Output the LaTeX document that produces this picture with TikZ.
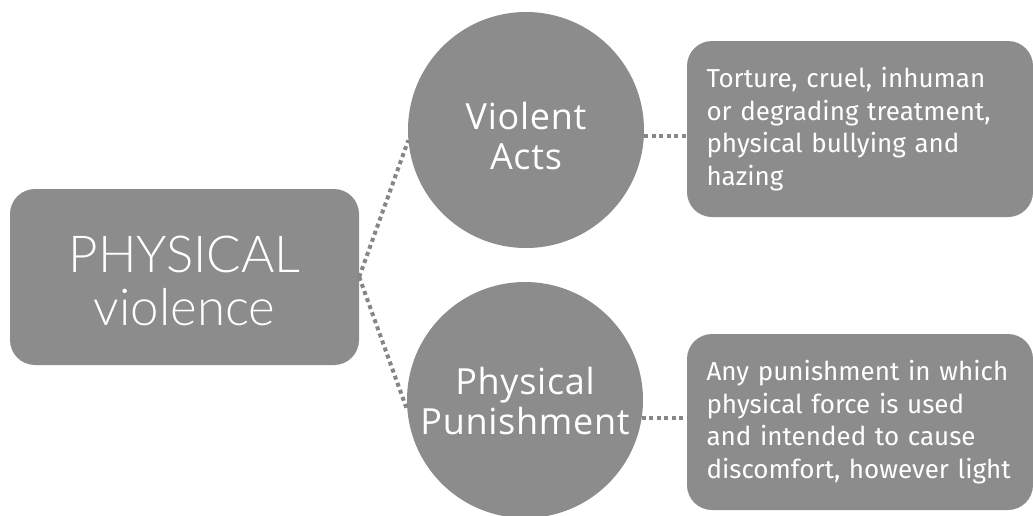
\documentclass[tikz,border=0pt]{standalone}
\usepackage{fontspec}
\setmainfont{Open Sans}
\newfontfamily\titlefont{Lato Light}
\newfontfamily\bubblefont{Open Sans}[LetterSpace=2]
\newfontfamily\descfont{Fira Sans}
\definecolor{boxgray}{HTML}{8C8C8C}
\definecolor{linegray}{HTML}{868686}
\begin{document}
\begin{tikzpicture}[x=1pt,y=-1pt,
  roundbox/.style={fill=boxgray, rounded corners=25pt, inner sep=0pt, text=white},
  bubble/.style={circle, fill=boxgray, minimum size=236pt, inner sep=0pt},
  bubbletext/.style={text=white, align=center, inner sep=0pt, font=\bubblefont\fontsize{36}{40}\selectfont},
  desc/.style={roundbox, minimum width=346pt, minimum height=176pt, align=left, font=\descfont\fontsize{26}{32.5}\selectfont, text width=307pt},
  dotline/.style={draw=linegray, line width=4pt, dash pattern=on 4pt off 3.5pt}
]
\useasboundingbox (0,0) rectangle (1033,515);
\node[roundbox, minimum width=349pt, minimum height=176pt] (L) at (184.5,277) {};
\node[text=white, align=center, inner sep=0pt, font=\titlefont\fontsize{51}{53}\selectfont] (Lt) at ([yshift=-4pt]L.center)
  {PHYSICAL\\violence};
\node[bubble] (c1) at (526,130) {};
\node[bubbletext] (t1) at ([yshift=-6pt]c1.center) {Violent\\Acts};
\node[bubble] (c2) at (525,400) {};
\node[bubbletext] (t2) at ([yshift=-1pt]c2.center) {Physical\\Punishment};
\node[desc] (b1) at (860,129) {Torture, cruel, inhuman\\or degrading treatment,\\physical bullying and\\hazing};
\node[desc] (b2) at (860,422) {Any punishment in which\\physical force is used\\and intended to cause\\discomfort, however light};
\draw[dotline] (L.east) -- (c1.185);
\draw[dotline] (L.east) -- (c2.185);
\draw[dotline] (c1.-3) -- (c1.-3 -| b1.west);
\draw[dotline] (c2.-9) -- (c2.-9 -| b2.west);
\end{tikzpicture}
\end{document}
